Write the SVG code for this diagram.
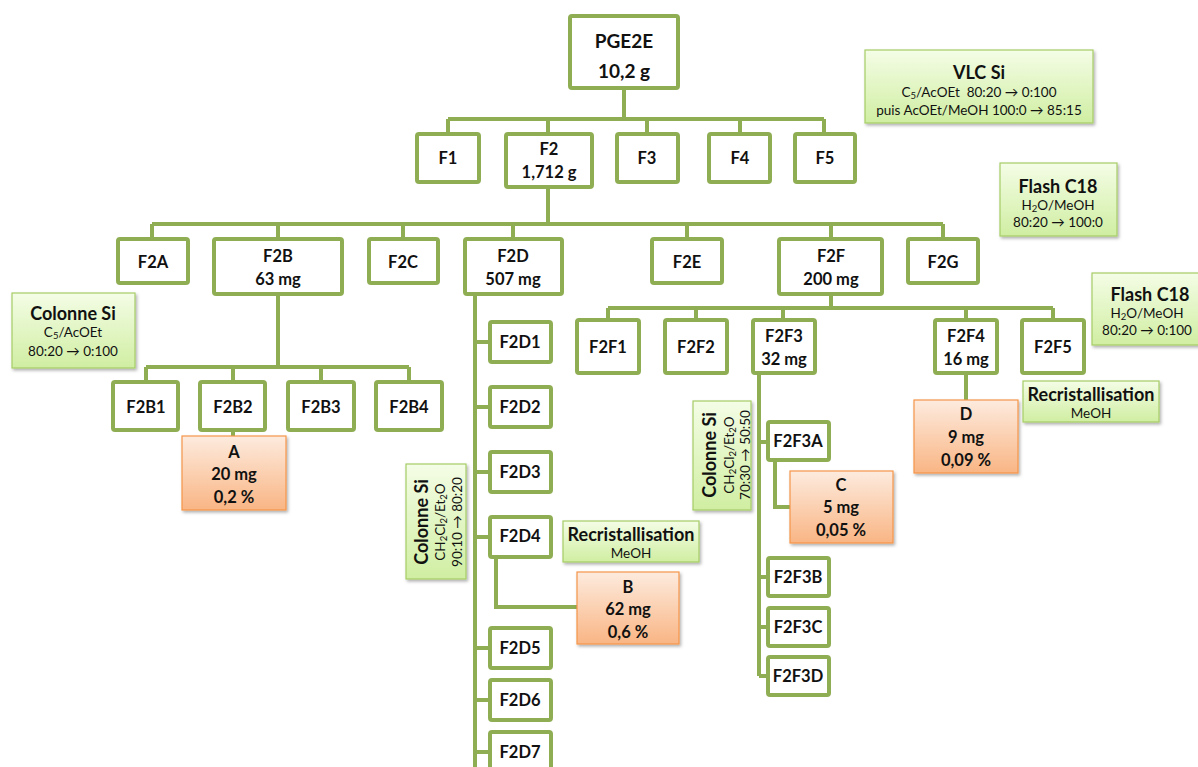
<svg xmlns="http://www.w3.org/2000/svg" width="1198" height="767" viewBox="0 0 1198 767">
<defs>
<linearGradient id="gg" x1="0" y1="0" x2="0" y2="1"><stop offset="0" stop-color="#f4fde6"/><stop offset="1" stop-color="#d0eea2"/></linearGradient>
<linearGradient id="og" x1="0" y1="0" x2="0" y2="1"><stop offset="0" stop-color="#fdebde"/><stop offset="1" stop-color="#f9b584"/></linearGradient>
<filter id="sh" x="-10%" y="-10%" width="130%" height="130%"><feDropShadow dx="1.5" dy="2" stdDeviation="1.5" flood-color="#000" flood-opacity="0.3"/></filter>
<style>
.n{fill:#fff;stroke:#8fae53;stroke-width:4}
.g{fill:url(#gg);stroke:#a6cc66;stroke-width:1.2;filter:url(#sh)}
.o{fill:url(#og);stroke:#f5954a;stroke-width:1.2;filter:url(#sh)}
.c{fill:none;stroke:#8fae53;stroke-width:4}
text{font-family:Lato,"Liberation Sans",sans-serif;fill:#111;text-anchor:middle;dominant-baseline:central}
.b{font-weight:bold;font-size:16.5px}
.big{font-weight:bold;font-size:19px}
.h{font-weight:bold;font-size:18px}
.s{font-size:13.5px}
.sub{font-size:9.5px}
</style>
</defs>
<rect width="1198" height="767" fill="#fff"/>
<g id="connectors">
<path class="c" d="M624 88V119M448 119H824M448 119V134M548 119V134M647 119V134M740 119V134M824 119V134"/>
<path class="c" d="M548 187V224M152 224H943M152 224V239M278 224V239M403 224V239M513 224V239M687 224V239M831 224V239M943 224V239"/>
<path class="c" d="M278 294V367M146 367H409M146 367V382M233 367V382M321 367V382M409 367V382M233 430V436"/>
<path class="c" d="M475 294V767M475 342H490M475 407H490M475 472H490M475 537H490M475 648H490M475 700H490M475 752H490M496 557V607H577"/>
<path class="c" d="M831 294V308M608 308H1053M608 308V320M696 308V320M783 308V320M966 308V320M1053 308V320"/>
<path class="c" d="M759 373V676M759 442H768M759 577H768M759 627H768M759 676H768M775 460V507H790M966 373V400"/>
</g>
<g id="PGE2E"><rect class="n" x="570" y="16" width="108" height="72" rx="2"/><text class="big" x="624" y="40">PGE2E</text><text class="big" x="624" y="70">10,2 g</text></g>
<g id="F1"><rect class="n" x="417" y="134" width="62" height="48" rx="2"/><text class="b" x="448" y="158">F1</text></g>
<g id="F2"><rect class="n" x="506" y="134" width="86" height="53" rx="2"/><text class="b" x="549" y="149">F2</text><text class="b" x="549" y="172">1,712 g</text></g>
<g id="F3"><rect class="n" x="617" y="134" width="61" height="48" rx="2"/><text class="b" x="647" y="158">F3</text></g>
<g id="F4"><rect class="n" x="709" y="134" width="61" height="48" rx="2"/><text class="b" x="740" y="158">F4</text></g>
<g id="F5"><rect class="n" x="795" y="134" width="60" height="48" rx="2"/><text class="b" x="825" y="158">F5</text></g>
<g id="F2A"><rect class="n" x="118" y="239" width="70" height="44" rx="2"/><text class="b" x="153" y="262">F2A</text></g>
<g id="F2B"><rect class="n" x="214" y="239" width="128" height="55" rx="2"/><text class="b" x="278" y="256">F2B</text><text class="b" x="278" y="279">63 mg</text></g>
<g id="F2C"><rect class="n" x="369" y="239" width="69" height="44" rx="2"/><text class="b" x="403" y="262">F2C</text></g>
<g id="F2D"><rect class="n" x="465" y="239" width="97" height="55" rx="2"/><text class="b" x="513" y="256">F2D</text><text class="b" x="513" y="279">507 mg</text></g>
<g id="F2E"><rect class="n" x="652" y="239" width="70" height="44" rx="2"/><text class="b" x="687" y="262">F2E</text></g>
<g id="F2F"><rect class="n" x="779" y="239" width="103" height="55" rx="2"/><text class="b" x="831" y="256">F2F</text><text class="b" x="831" y="279">200 mg</text></g>
<g id="F2G"><rect class="n" x="908" y="239" width="70" height="44" rx="2"/><text class="b" x="943" y="262">F2G</text></g>
<g id="F2B1"><rect class="n" x="113" y="382" width="65" height="48" rx="2"/><text class="b" x="146" y="407">F2B1</text></g>
<g id="F2B2"><rect class="n" x="200" y="382" width="65" height="48" rx="2"/><text class="b" x="233" y="407">F2B2</text></g>
<g id="F2B3"><rect class="n" x="288" y="382" width="66" height="48" rx="2"/><text class="b" x="321" y="407">F2B3</text></g>
<g id="F2B4"><rect class="n" x="376" y="382" width="66" height="48" rx="2"/><text class="b" x="409" y="407">F2B4</text></g>
<g id="A"><rect class="o" x="182" y="436" width="104" height="74"/><text class="b" x="234" y="452">A</text><text class="b" x="234" y="474">20 mg</text><text class="b" x="234" y="497">0,2 %</text></g>
<g id="F2D1"><rect class="n" x="490" y="322" width="61" height="40" rx="2"/><text class="b" x="520" y="342">F2D1</text></g>
<g id="F2D2"><rect class="n" x="490" y="387" width="61" height="40" rx="2"/><text class="b" x="520" y="407">F2D2</text></g>
<g id="F2D3"><rect class="n" x="490" y="452" width="61" height="40" rx="2"/><text class="b" x="520" y="472">F2D3</text></g>
<g id="F2D4"><rect class="n" x="490" y="517" width="61" height="40" rx="2"/><text class="b" x="520" y="536">F2D4</text></g>
<g id="F2D5"><rect class="n" x="490" y="628" width="61" height="40" rx="2"/><text class="b" x="520" y="648">F2D5</text></g>
<g id="F2D6"><rect class="n" x="490" y="680" width="61" height="40" rx="2"/><text class="b" x="520" y="700">F2D6</text></g>
<g id="F2D7"><rect class="n" x="490" y="732" width="61" height="40" rx="2"/><text class="b" x="520" y="752">F2D7</text></g>
<g id="B"><rect class="o" x="577" y="572" width="102" height="72"/><text class="b" x="628" y="587">B</text><text class="b" x="628" y="609">62 mg</text><text class="b" x="628" y="632">0,6 %</text></g>
<g id="F2F1"><rect class="n" x="577" y="320" width="62" height="53" rx="2"/><text class="b" x="608" y="347">F2F1</text></g>
<g id="F2F2"><rect class="n" x="665" y="320" width="62" height="53" rx="2"/><text class="b" x="696" y="347">F2F2</text></g>
<g id="F2F3"><rect class="n" x="753" y="320" width="62" height="53" rx="2"/><text class="b" x="784" y="336">F2F3</text><text class="b" x="784" y="359">32 mg</text></g>
<g id="F2F4"><rect class="n" x="935" y="320" width="62" height="53" rx="2"/><text class="b" x="966" y="336">F2F4</text><text class="b" x="966" y="359">16 mg</text></g>
<g id="F2F5"><rect class="n" x="1022" y="320" width="62" height="53" rx="2"/><text class="b" x="1053" y="347">F2F5</text></g>
<g id="F2F3A"><rect class="n" x="768" y="422" width="61" height="38" rx="2"/><text class="b" x="798" y="441">F2F3A</text></g>
<g id="F2F3B"><rect class="n" x="768" y="558" width="61" height="38" rx="2"/><text class="b" x="798" y="577">F2F3B</text></g>
<g id="F2F3C"><rect class="n" x="768" y="608" width="61" height="38" rx="2"/><text class="b" x="798" y="627">F2F3C</text></g>
<g id="F2F3D"><rect class="n" x="768" y="657" width="61" height="38" rx="2"/><text class="b" x="798" y="676">F2F3D</text></g>
<g id="C"><rect class="o" x="790" y="471" width="103" height="72"/><text class="b" x="841" y="485">C</text><text class="b" x="841" y="507">5 mg</text><text class="b" x="841" y="530">0,05 %</text></g>
<g id="D"><rect class="o" x="914" y="400" width="104" height="73"/><text class="b" x="966" y="414">D</text><text class="b" x="966" y="437">9 mg</text><text class="b" x="966" y="460">0,09 %</text></g>
<g id="VLC"><rect class="g" x="865" y="50" width="228" height="73"/><text class="h" x="979" y="72">VLC Si</text><text class="s" x="979" y="92" xml:space="preserve">C<tspan class="sub" dy="3">5</tspan><tspan dy="-3">/AcOEt  80:20 → 0:100</tspan></text><text class="s" x="979" y="110">puis AcOEt/MeOH 100:0 → 85:15</text></g>
<g id="FlashC18a"><rect class="g" x="1000" y="163" width="117" height="73"/><text class="h" x="1058" y="186">Flash C18</text><text class="s" x="1058" y="205">H<tspan class="sub" dy="3">2</tspan><tspan dy="-3">O/MeOH</tspan></text><text class="s" x="1058" y="222">80:20 → 100:0</text></g>
<g id="FlashC18b"><rect class="g" x="1092" y="273" width="112" height="72"/><text class="h" x="1150" y="294">Flash C18</text><text class="s" x="1147" y="313">H<tspan class="sub" dy="3">2</tspan><tspan dy="-3">O/MeOH</tspan></text><text class="s" x="1147" y="330">80:20 → 0:100</text></g>
<g id="ColonneSiB"><rect class="g" x="12" y="293" width="123" height="75"/><text class="h" x="73" y="313">Colonne Si</text><text class="s" x="73" y="332">C<tspan class="sub" dy="3">5</tspan><tspan dy="-3">/AcOEt</tspan></text><text class="s" x="73" y="351">80:20 → 0:100</text></g>
<g id="ColonneSiD"><rect class="g" x="406" y="464" width="60" height="115"/>
<text class="h" transform="translate(421 522) rotate(-90)">Colonne Si</text>
<text class="s" transform="translate(440 522) rotate(-90)">CH<tspan class="sub" dy="3">2</tspan><tspan dy="-3">Cl</tspan><tspan class="sub" dy="3">2</tspan><tspan dy="-3">/Et</tspan><tspan class="sub" dy="3">2</tspan><tspan dy="-3">O</tspan></text>
<text class="s" transform="translate(457 522) rotate(-90)">90:10 → 80:20</text></g>
<g id="ColonneSiF"><rect class="g" x="693" y="401" width="58" height="109"/>
<text class="h" transform="translate(709 455) rotate(-90)">Colonne Si</text>
<text class="s" transform="translate(729 455) rotate(-90)">CH<tspan class="sub" dy="3">2</tspan><tspan dy="-3">Cl</tspan><tspan class="sub" dy="3">2</tspan><tspan dy="-3">/Et</tspan><tspan class="sub" dy="3">2</tspan><tspan dy="-3">O</tspan></text>
<text class="s" transform="translate(745 455) rotate(-90)">70:30 → 50:50</text></g>
<g id="Recrist1"><rect class="g" x="563" y="521" width="136" height="41"/><text class="h" x="631" y="534">Recristallisation</text><text class="s" x="631" y="553">MeOH</text></g>
<g id="Recrist2"><rect class="g" x="1023" y="381" width="136" height="41"/><text class="h" x="1091" y="394">Recristallisation</text><text class="s" x="1091" y="413">MeOH</text></g>
</svg>
